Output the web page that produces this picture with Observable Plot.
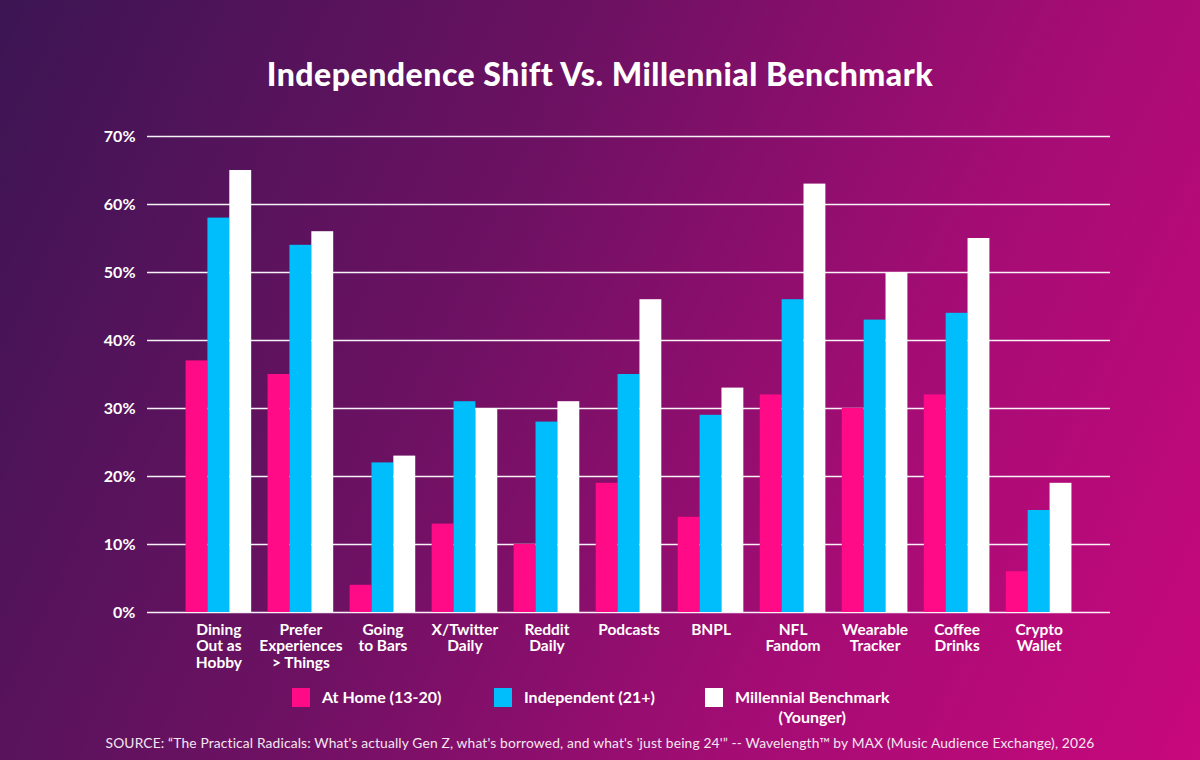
<!DOCTYPE html>
<html>
<head>
<meta charset="utf-8">
<script src="https://cdn.jsdelivr.net/npm/d3@7"></script>
<script src="https://cdn.jsdelivr.net/npm/@observablehq/plot@0.6"></script>
<style>
  html, body { margin: 0; padding: 0; }
  body { width: 1200px; height: 760px; overflow: hidden; font-family: Lato, "Open Sans", sans-serif; }
  #wrap { position: relative; width: 1200px; height: 760px;
    background: linear-gradient(115deg, #3c1553 0%, #6e1163 40%, #a40c74 70%, #c8087d 100%); color: #fff; }
  #title { position: absolute; left: 0; top: 55px; width: 1200px; text-align: center;
    font-size: 32px; font-weight: 900; line-height: 38px; letter-spacing: 0.5px; }
  .layer { position: absolute; left: 0; top: 100px; }
  .layer svg { background: transparent !important; overflow: visible; }
  #legend { position: absolute; top: 688px; left: 0; width: 1200px; height: 40px; font-size: 16px; font-weight: 700; }
  .item { position: absolute; top: 0; display: flex; align-items: flex-start; }
  .sw { width: 18px; height: 19px; margin-right: 12px; }
  .lt { line-height: 20px; text-align: center; margin-top: -1px; }
  #source { position: absolute; top: 734px; left: 0; width: 1200px; text-align: center;
    font-size: 13.8px; font-weight: 400; color: #f4e6f0; letter-spacing: 0.15px; }
</style>
</head>
<body>
<div id="wrap">
  <div id="title"></div>
  <div id="gridLayer" class="layer"></div>
  <div id="barLayer" class="layer"></div>
  <div id="legend"></div>
  <div id="source"></div>
</div>
<script>
const titleText = "Independence Shift Vs. Millennial Benchmark";
const sourceText = "SOURCE:  \u201CThe Practical Radicals: What's actually Gen Z, what's borrowed, and what's 'just being 24'\u201D -- Wavelength\u2122 by MAX (Music Audience Exchange), 2026";

const categories = ["Dining Out as Hobby", "Prefer Experiences > Things", "Going to Bars", "X/Twitter Daily", "Reddit Daily", "Podcasts", "BNPL", "NFL Fandom", "Wearable Tracker", "Coffee Drinks", "Crypto Wallet"];
const tickLabels = ["Dining\nOut as\nHobby", "Prefer\nExperiences\n> Things", "Going\nto Bars", "X/Twitter\nDaily", "Reddit\nDaily", "Podcasts", "BNPL", "NFL\nFandom", "Wearable\nTracker", "Coffee\nDrinks", "Crypto\nWallet"];
const seriesNames = ["At Home (13-20)", "Independent (21+)", "Millennial Benchmark (Younger)"];
const legendLabels = ["At Home (13-20)", "Independent (21+)", "Millennial Benchmark<br>(Younger)"];
const seriesColors = ["#ff0a87", "#00bdfc", "#ffffff"];

const atHome      = [37, 35, 4, 13, 10, 19, 14, 32, 30, 32, 6];
const independent = [58, 54, 22, 31, 28, 35, 29, 46, 43, 44, 15];
const millennial  = [65, 56, 23, 30, 31, 46, 33, 63, 50, 55, 19];

const yTicks = [0, 10, 20, 30, 40, 50, 60, 70];

const seriesValues = [atHome, independent, millennial];
const data = [];
categories.forEach((c, i) => {
  seriesNames.forEach((s, j) => data.push({category: c, series: s, value: seriesValues[j][i]}));
});
const labelOf = new Map(categories.map((c, i) => [c, tickLabels[i]]));

document.getElementById("title").textContent = titleText;
document.getElementById("source").textContent = sourceText;

const W = 1200, H = 580, mL = 147, mR = 90, mT = 36, mB = 68;

const gridPlot = Plot.plot({
  width: W, height: H,
  marginLeft: mL, marginRight: mR, marginTop: mT, marginBottom: mB,
  style: {background: "transparent", color: "white", fontFamily: "Lato, 'Open Sans', sans-serif"},
  y: {domain: [0, 70], ticks: yTicks, label: null},
  marks: [
    Plot.ruleY(yTicks, {stroke: "white", strokeWidth: 1.3, strokeOpacity: 0.95}),
    Plot.axisY({ticks: yTicks, tickSize: 0, tickPadding: 12, tickFormat: d => d + "%",
      fontSize: 16, fontWeight: 700, fill: "white", label: null})
  ]
});
document.getElementById("gridLayer").append(gridPlot);

const barPlot = Plot.plot({
  width: W, height: H,
  marginLeft: mL, marginRight: mR, marginTop: mT, marginBottom: mB,
  style: {background: "transparent", color: "white", fontFamily: "Lato, 'Open Sans', sans-serif"},
  fx: {domain: categories, paddingInner: 0.2, paddingOuter: 0.47, round: false, label: null},
  x: {domain: seriesNames, padding: 0, round: false, axis: null},
  y: {domain: [0, 70], axis: null},
  color: {domain: seriesNames, range: seriesColors},
  marks: [
    Plot.barY(data, {fx: "category", x: "series", y: "value", fill: "series"}),
    Plot.axisFx({anchor: "bottom", tickSize: 0, tickPadding: 11, tickFormat: d => labelOf.get(d),
      fontSize: 15.5, fontWeight: 700, fill: "white", lineHeight: 1.05, label: null})
  ]
});
document.getElementById("barLayer").append(barPlot);

const legendX = [292, 494, 705];
const legend = document.getElementById("legend");
seriesNames.forEach((s, i) => {
  const item = document.createElement("div");
  item.className = "item";
  item.style.left = legendX[i] + "px";
  const sw = document.createElement("div");
  sw.className = "sw";
  sw.style.background = seriesColors[i];
  const lt = document.createElement("div");
  lt.className = "lt";
  lt.innerHTML = legendLabels[i];
  item.append(sw, lt);
  legend.append(item);
});
</script>
</body>
</html>
